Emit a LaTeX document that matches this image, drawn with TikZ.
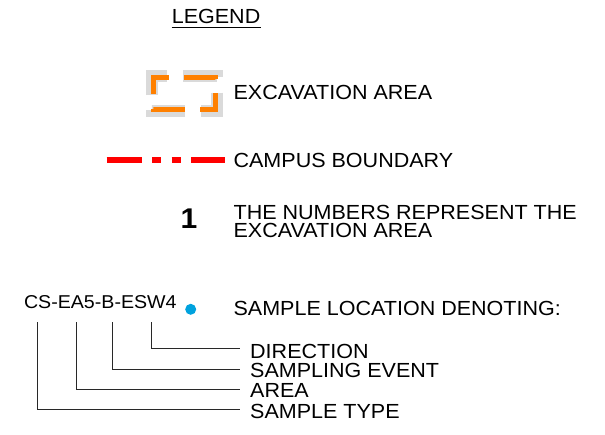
\documentclass[tikz,border=0pt]{standalone}
\usepackage{fontspec}
\setmainfont[FakeStretch=1.055]{Liberation Sans}
\definecolor{exorange}{RGB}{255,128,0}
\definecolor{exshadow}{RGB}{218,218,218}
\definecolor{sampleblue}{RGB}{0,162,222}
\definecolor{treeline}{RGB}{40,40,40}
\begin{document}
\begin{tikzpicture}[x=1pt,y=-1pt,
  legtext/.style={anchor=base west,inner sep=0pt,font=\fontsize{20.4}{16.7}\selectfont},
  codetext/.style={anchor=base west,inner sep=0pt,font=\fontsize{18.6}{20}\selectfont},
  branchlabel/.style={anchor=base west,inner xsep=10pt,inner ysep=0pt,font=\fontsize{20.4}{20}\selectfont},
  branch/.style={draw=treeline,line width=1pt},
  excav/.style={draw=exorange,line width=5pt,line join=miter,dash pattern=on 32pt off 15pt},
  excavshadow/.style={draw=exshadow,line width=12pt,line join=miter,dash pattern=on 34pt off 16pt},
  boundary/.style={draw=red,line width=6pt,dash pattern=on 35pt off 10.5pt on 9pt off 10.5pt on 9pt off 10.5pt on 35pt off 20pt}]
\useasboundingbox (0,0) rectangle (605,434);

% title
\node[legtext] (title) at (171.6,23.3) {LEGEND};
\draw[line width=1.5pt] ([yshift=-4.2pt]title.base west) -- ([yshift=-4.2pt]title.base east);

% excavation area symbol: grey shadow under an orange dashed outline
\path[excavshadow] (152,95) -- (152,76) -- (216.5,76) -- (216.5,111) -- (152,111) -- cycle;
\path[excav] (153.5,94) -- (153.5,77.5) -- (215.5,77.5) -- (215.5,109.5) -- (153.5,109.5) -- cycle;
\node[legtext] (excavlbl) at (233.4,99) {EXCAVATION AREA};

% campus boundary symbol
\coordinate (bndA) at (106.7,160.3);
\coordinate (bndB) at (225,160.3);
\path[boundary] (bndA) -- (bndB);
\node[legtext] (bndlbl) at (233.4,167.3) {CAMPUS BOUNDARY};

% area number
\node[anchor=base,inner sep=0pt,font=\fontsize{28.5}{28}\bfseries\selectfont] (num) at (189,228.3) {1};
\node[legtext] (numlbl1) at (233.4,219.7) {THE NUMBERS REPRESENT THE};
\node[legtext] (numlbl2) at (233.4,237) {EXCAVATION AREA};

% sample location
\node[codetext] (code) at (23.8,308.3) {CS-EA5-B-ESW4};
\node[circle,fill=sampleblue,minimum size=11pt,inner sep=0pt] (dot) at (190.7,309.3) {};
\node[legtext] (dotlbl) at (233.4,315.7) {SAMPLE LOCATION DENOTING:};

% parts of the sample code
\coordinate (tType) at (37.3,322.3);
\coordinate (tArea) at (76,322.3);
\coordinate (tEvent) at (112.3,322.3);
\coordinate (tDir) at (151.7,322.3);
\node[branchlabel] (lDir) at (240,358.3) {DIRECTION};
\node[branchlabel] (lEvent) at (240,377.9) {SAMPLING EVENT};
\node[branchlabel] (lArea) at (240,397.7) {AREA};
\node[branchlabel] (lType) at (240,418.3) {SAMPLE TYPE};
\draw[branch] (tDir) |- ([yshift=10pt]lDir.base west);
\draw[branch] (tEvent) |- ([yshift=8.9pt]lEvent.base west);
\draw[branch] (tArea) |- ([yshift=8.4pt]lArea.base west);
\draw[branch] (tType) |- ([yshift=9pt]lType.base west);
\end{tikzpicture}
\end{document}
